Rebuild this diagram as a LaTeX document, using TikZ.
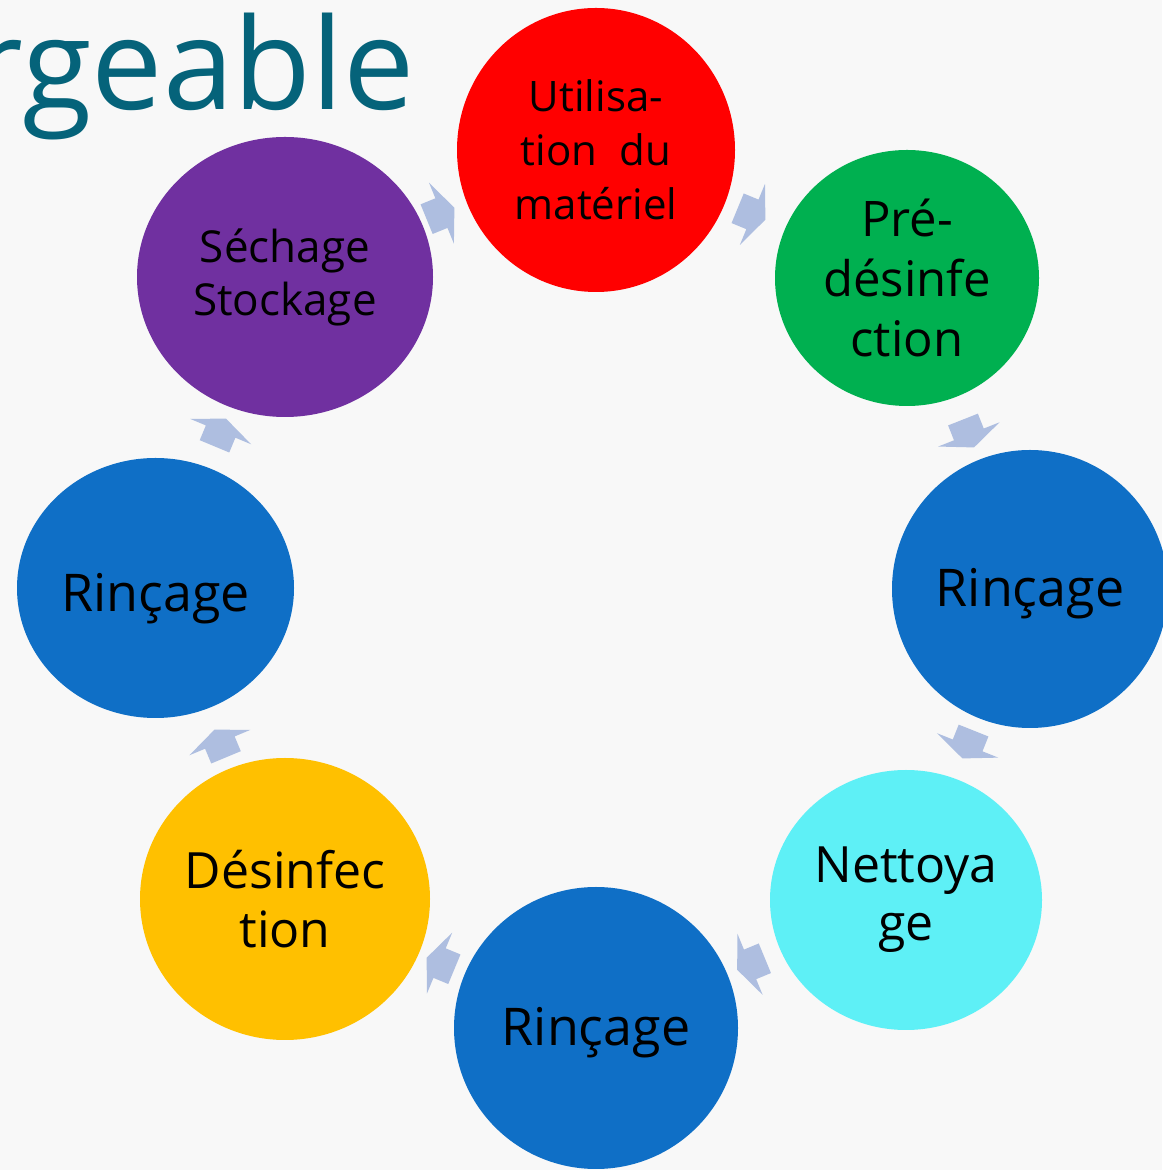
\documentclass[tikz,border=0pt]{standalone}
\usepackage{fontspec}
\setmainfont{Open Sans}
\usetikzlibrary{shapes.geometric,calc}
\definecolor{bgcol}{RGB}{248,248,248}
\definecolor{titlecol}{HTML}{05637A}
\definecolor{cred}{HTML}{FF0000}
\definecolor{cgreen}{HTML}{00B050}
\definecolor{cblue}{HTML}{0F6FC6}
\definecolor{ccyan}{HTML}{5EF0F6}
\definecolor{cyellow}{HTML}{FFC000}
\definecolor{cpurple}{HTML}{7030A0}
\definecolor{arrowblue}{HTML}{AEBEE0}
\tikzset{
  disc/.style={ellipse, inner sep=0pt, align=center, text=black, draw=none},
  fs/.style 2 args={font=\fontsize{#1}{#2}\selectfont},
  cyarr/.pic={\fill[arrowblue] (-15,-16) -- (1,-16) -- (1,-33) -- (15,0) -- (1,33) -- (1,16) -- (-15,16) -- cycle;}
}
\begin{document}
\begin{tikzpicture}[x=1pt,y=1pt]
\fill[bgcol] (0,0) rectangle (1162,1170);
\useasboundingbox (0,0) rectangle (1162,1170);
\node[anchor=base east, inner sep=0pt, text=titlecol, fs={127}{127}] (title) at (415,1060) {rgeable};

\node[disc, fill=cred, minimum width=278, minimum height=284, fs={42}{54}] (util) at (596,1020) {Utilisa-\\tion\hspace{22pt}du\\matériel};
\node[disc, fill=cgreen, minimum width=264, minimum height=256, fs={49}{60}] (pre) at (907,892) {Pré-\\désinfe\\ction};
\node[disc, fill=cblue, minimum width=276, minimum height=278, fs={52}{60}, text height=36pt, text depth=0pt] (rinR) at (1030,581) {Rinçage};
\node[disc, fill=ccyan, minimum width=272, minimum height=260, fs={50}{58}] (nett) at (906,270) {Nettoya\\ge};
\node[disc, fill=cblue, minimum width=284, minimum height=282, fs={52}{60}, text height=36pt, text depth=0pt] (rinB) at (596,142) {Rinçage};
\node[disc, fill=cyellow, minimum width=290, minimum height=282, fs={50}{59}] (desi) at (285,271) {Désinfec\\tion};
\node[disc, fill=cblue, minimum width=277, minimum height=260, fs={52}{60}, text height=48pt, text depth=0pt] (rinL) at (155.5,582) {Rinçage};
\node[disc, fill=cpurple, minimum width=296, minimum height=280, fs={44}{53}] (sech) at (285,893) {Séchage\\Stockage};

\foreach \a/\b in {sech/util, util/pre, pre/rinR, rinR/nett, nett/rinB, rinB/desi, desi/rinL, rinL/sech}
  \path let \p1=(\a.center), \p2=(\b.center), \n1={atan2(\y2-\y1,\x2-\x1)} in
    ($(\a.center)!.5!(\b.center)$) pic[rotate=\n1]{cyarr};
\end{tikzpicture}
\end{document}
